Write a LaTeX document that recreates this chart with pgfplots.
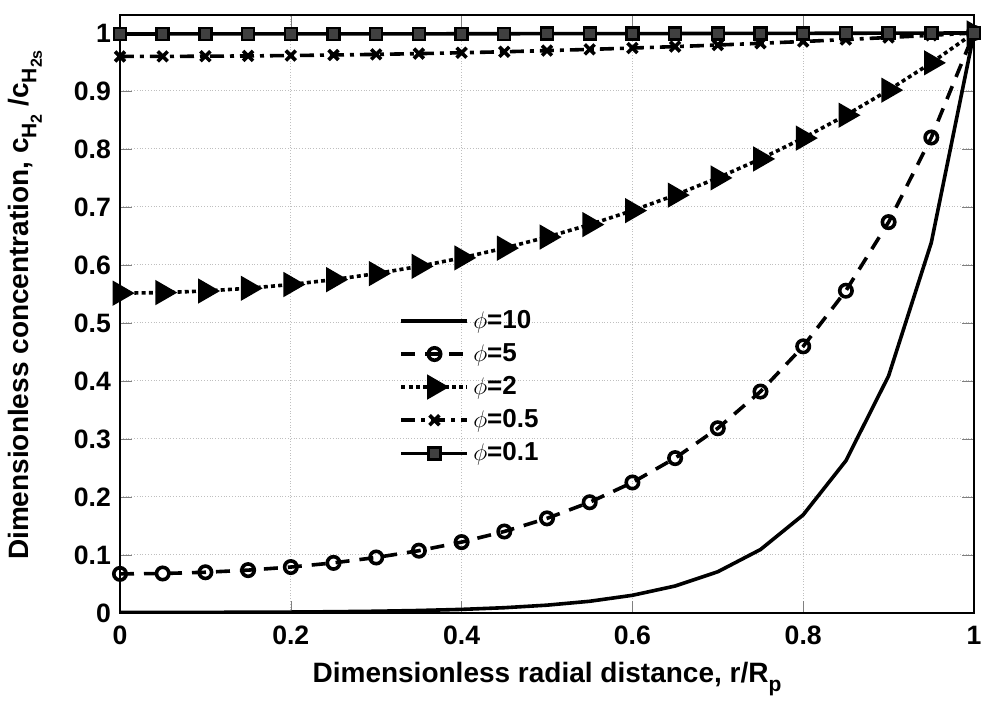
\documentclass[border=0pt]{standalone}
\usepackage{pgfplots}
\pgfplotsset{compat=1.18}
\usepackage{fontspec}
\setmainfont{Liberation Sans}
\newcommand{\subH}[1]{\raisebox{-0.5ex}{\fontsize{10.5}{11}\selectfont H\raisebox{-0.5ex}{\fontsize{8}{8}\selectfont #1}}}
\begin{document}
\begin{tikzpicture}
\begin{axis}[
    scale only axis,
    width=427pt, height=299pt,
    xmin=0, xmax=1, ymin=0, ymax=1.031,
    xtick={0,0.2,0.4,0.6,0.8,1},
    ytick={0,0.1,0.2,0.3,0.4,0.5,0.6,0.7,0.8,0.9,1},
    tick align=inside, tick pos=both,
    major tick length=6pt,
    grid=major,
    major grid style={densely dotted, gray!50, line width=0.5pt},
    axis line style={line width=0.6pt},
    /pgf/number format/assume math mode=true,
    tick label style={font=\fontsize{13.3}{15}\selectfont\bfseries},
    xticklabel style={yshift=-3pt},
    yticklabel style={xshift=-1pt},
    label style={font=\fontsize{14}{16}\selectfont\bfseries},
    xlabel={Dimensionless radial distance, r/R\raisebox{-0.6ex}{\fontsize{10.5}{11}\selectfont p}},
    ylabel={Dimensionless concentration, c\subH{2} /c\subH{2s}},
    xlabel style={at={(axis description cs:0.5,-0.117)}, anchor=base},
    ylabel style={at={(axis description cs:-0.1066,0.515)}, anchor=base},
    every axis plot/.append style={line width=1.8pt, black},
    legend style={draw=none, fill=none, at={(rel axis cs:0.32,0.52)}, anchor=north west,
      font=\fontsize{13}{15}\selectfont\bfseries, row sep=2pt},
    legend cell align=left,
    legend image code/.code={\draw[mark repeat=2,mark phase=2,#1] plot coordinates {(0cm,0cm) (0.58cm,0cm) (1.16cm,0cm)};},
]
% phi = 10
\addplot[solid] coordinates {
(0,0.0009) (0.05,0.0009) (0.1,0.0011) (0.15,0.0013) (0.2,0.0016) (0.25,0.0022)
(0.3,0.0030) (0.35,0.0043) (0.4,0.0062) (0.45,0.0091) (0.5,0.0135) (0.55,0.0202)
(0.6,0.0305) (0.65,0.0465) (0.7,0.0711) (0.75,0.1094) (0.8,0.1692) (0.85,0.2625)
(0.9,0.4088) (0.95,0.6385) (1,1)};
% phi = 5
\addplot[dash pattern=on 7pt off 5pt, mark=o, mark size=3.1pt, mark options={solid}] coordinates {
(0,0.0674) (0.05,0.0681) (0.1,0.0702) (0.15,0.0739) (0.2,0.0792) (0.25,0.0864)
(0.3,0.0957) (0.35,0.1074) (0.4,0.1222) (0.45,0.1405) (0.5,0.1631) (0.55,0.1909)
(0.6,0.2250) (0.65,0.2670) (0.7,0.3185) (0.75,0.3818) (0.8,0.4597) (0.85,0.5556)
(0.9,0.6739) (0.95,0.8198) (1,1)};
% phi = 2
\addplot[dash pattern=on 2pt off 1.6pt, mark=triangle*, mark size=5.5pt, mark options={solid, rotate=-90}] coordinates {
(0,0.5514) (0.05,0.5524) (0.1,0.5551) (0.15,0.5598) (0.2,0.5663) (0.25,0.5747)
(0.3,0.5851) (0.35,0.5976) (0.4,0.6122) (0.45,0.6290) (0.5,0.6481) (0.55,0.6696)
(0.6,0.6937) (0.65,0.7204) (0.7,0.7501) (0.75,0.7828) (0.8,0.8187) (0.85,0.8582)
(0.9,0.9014) (0.95,0.9485) (1,1)};
% phi = 0.5
\addplot[dash pattern=on 7pt off 3pt on 2pt off 3pt, mark=x, mark size=3.5pt, mark options={solid}] coordinates {
(0,0.9595) (0.05,0.9596) (0.1,0.9599) (0.15,0.9604) (0.2,0.9611) (0.25,0.9620)
(0.3,0.9631) (0.35,0.9644) (0.4,0.9659) (0.45,0.9676) (0.5,0.9696) (0.55,0.9717)
(0.6,0.9740) (0.65,0.9765) (0.7,0.9792) (0.75,0.9822) (0.8,0.9853) (0.85,0.9887)
(0.9,0.9922) (0.95,0.9960) (1,1)};
% phi = 0.1
\addplot[solid, mark=square*, mark size=3pt, mark options={solid, fill=black!75, line width=1.2pt}] coordinates {
(0,0.9983) (0.05,0.9983) (0.1,0.9984) (0.15,0.9984) (0.2,0.9984) (0.25,0.9984)
(0.3,0.9985) (0.35,0.9985) (0.4,0.9986) (0.45,0.9987) (0.5,0.9988) (0.55,0.9988)
(0.6,0.9989) (0.65,0.9990) (0.7,0.9992) (0.75,0.9993) (0.8,0.9994) (0.85,0.9995)
(0.9,0.9997) (0.95,0.9998) (1,1)};
\legend{$\phi$=10,$\phi$=5,$\phi$=2,$\phi$=0.5,$\phi$=0.1}
\end{axis}
\pgfresetboundingbox
\path (current axis.south west) ++(-60pt,-45.5pt) coordinate (bbA);
\path (current axis.north east) ++(3.5pt,7.5pt) coordinate (bbB);
\useasboundingbox (bbA) rectangle (bbB);
\end{tikzpicture}
\end{document}
